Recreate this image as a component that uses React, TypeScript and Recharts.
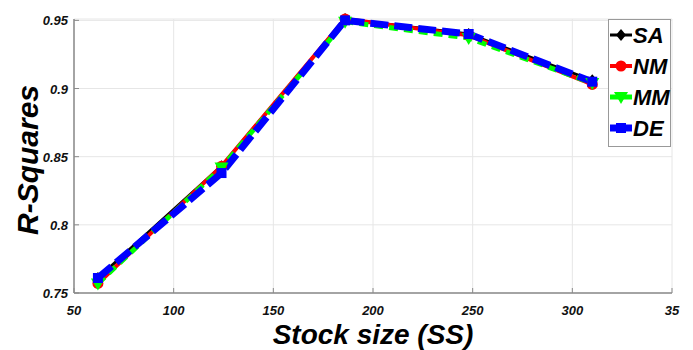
import { CartesianGrid, Label, Line, LineChart, XAxis, YAxis } from 'recharts';

const stockSizes = [62, 124, 186, 248, 310];
const saValues = [0.761, 0.843, 0.951, 0.94, 0.906];
const nmValues = [0.757, 0.843, 0.951, 0.939, 0.903];
const mmValues = [0.757, 0.842, 0.949, 0.937, 0.904];
const deValues = [0.761, 0.838, 0.95, 0.94, 0.905];

const xTicks = [50, 100, 150, 200, 250, 300, 350];
const xTickLabels = ['50', '100', '150', '200', '250', '300', '35'];
const yTicks = [0.75, 0.8, 0.85, 0.9, 0.95];
const yTickLabels = ['0.75', '0.8', '0.85', '0.9', '0.95'];

const font = '"Liberation Sans", Arial, sans-serif';
const axisGray = '#8a8a8a';

const chartData = stockSizes.map((ss, i) => ({
  ss,
  SA: saValues[i],
  NM: nmValues[i],
  MM: mmValues[i],
  DE: deValues[i],
}));

type Marker = 'diamond' | 'circle' | 'triangle' | 'square';

const series: { key: string; color: string; width: number; dash?: string; marker: Marker }[] = [
  { key: 'SA', color: '#000000', width: 3, marker: 'diamond' },
  { key: 'NM', color: '#ff0000', width: 4, marker: 'circle' },
  { key: 'MM', color: '#00ff00', width: 5, dash: '9 6', marker: 'triangle' },
  { key: 'DE', color: '#0000ff', width: 7, dash: '18 6', marker: 'square' },
];

function markerShape(kind: Marker, cx: number, cy: number, color: string) {
  if (kind === 'diamond') {
    return <polygon points={`${cx},${cy - 6} ${cx + 5},${cy} ${cx},${cy + 6} ${cx - 5},${cy}`} fill={color} />;
  }
  if (kind === 'circle') return <circle cx={cx} cy={cy} r={5.5} fill={color} />;
  if (kind === 'triangle') {
    return <polygon points={`${cx - 7},${cy - 5} ${cx + 7},${cy - 5} ${cx},${cy + 7}`} fill={color} />;
  }
  return <rect x={cx - 5} y={cy - 5} width={10} height={10} fill={color} />;
}

const tickText = { fontFamily: font, fontSize: 13, fontWeight: 700, fontStyle: 'italic', fill: '#111' } as const;

function BottomTick({ x, y, payload }: any) {
  const label = xTickLabels[xTicks.indexOf(payload.value)];
  return (
    <g>
      <line x1={x} x2={x} y1={y} y2={y - 5} stroke={axisGray} />
      <text x={x} y={y + 22} textAnchor="middle" style={tickText}>
        {label}
      </text>
    </g>
  );
}

function TopTick({ x, y }: any) {
  return <line x1={x} x2={x} y1={y} y2={y + 5} stroke={axisGray} />;
}

function LeftTick({ x, y, payload }: any) {
  const label = yTickLabels[yTicks.indexOf(payload.value)];
  return (
    <g>
      <line x1={x} x2={x + 5} y1={y} y2={y} stroke={axisGray} />
      <text x={x - 6} y={y + 5} textAnchor="end" style={tickText}>
        {label}
      </text>
    </g>
  );
}

function RightTick({ x, y }: any) {
  return <line x1={x} x2={x - 5} y1={y} y2={y} stroke={axisGray} />;
}

function LegendBox() {
  return (
    <svg width={63} height={128} style={{ display: 'block' }}>
      <rect x={0.5} y={0.5} width={62} height={127} fill="#fff" stroke="#999" />
      {series.map((s, i) => {
        const cy = 16 + i * 31;
        return (
          <g key={s.key}>
            <line x1={2} x2={24} y1={cy} y2={cy} stroke={s.color} strokeWidth={s.width} />
            {markerShape(s.marker, 13, cy, s.color)}
            <text
              x={25}
              y={cy + 8}
              style={{ fontFamily: font, fontSize: 22, fontWeight: 700, fontStyle: 'italic', fill: '#000' }}
            >
              {s.key}
            </text>
          </g>
        );
      })}
    </svg>
  );
}

export default function App() {
  return (
    <div style={{ position: 'absolute', left: 0, top: 0, width: 693, height: 350, background: '#fff' }}>
      <LineChart width={693} height={350} data={chartData} margin={{ top: 19, right: 21, bottom: 0, left: 0 }}>
        <CartesianGrid stroke="#e6e6e6" strokeWidth={1} />
        <XAxis
          dataKey="ss"
          type="number"
          domain={[50, 350]}
          ticks={xTicks}
          height={57}
          tickSize={0}
          tickMargin={0}
          tickLine={false}
          tick={<BottomTick />}
          axisLine={{ stroke: axisGray, strokeWidth: 1.5 }}
          interval={0}
        >
          <Label
            value="Stock size (SS)"
            position="insideBottom"
            offset={6}
            style={{ fontFamily: font, fontSize: 28, fontWeight: 700, fontStyle: 'italic', fill: '#000' }}
          />
        </XAxis>
        <XAxis
          xAxisId="top"
          orientation="top"
          type="number"
          domain={[50, 350]}
          ticks={xTicks}
          height={0}
          tickSize={0}
          tickMargin={0}
          tickLine={false}
          tick={<TopTick />}
          axisLine={{ stroke: axisGray, strokeWidth: 1.5 }}
          interval={0}
        />
        <YAxis
          type="number"
          domain={[0.75, 0.95]}
          ticks={yTicks}
          width={74}
          tickSize={0}
          tickMargin={0}
          tickLine={false}
          tick={<LeftTick />}
          axisLine={{ stroke: axisGray, strokeWidth: 1.5 }}
          interval={0}
        >
          <Label
            content={() => (
              <text
                x={27}
                y={160}
                transform="rotate(-90 27 160)"
                textAnchor="middle"
                dominantBaseline="central"
                style={{ fontFamily: font, fontSize: 30, fontWeight: 700, fontStyle: 'italic', fill: '#000' }}
              >
                R-Squares
              </text>
            )}
          />
        </YAxis>
        <YAxis
          yAxisId="right"
          orientation="right"
          type="number"
          domain={[0.75, 0.95]}
          ticks={yTicks}
          width={0}
          tickSize={0}
          tickMargin={0}
          tickLine={false}
          tick={<RightTick />}
          axisLine={{ stroke: axisGray, strokeWidth: 1.5 }}
          interval={0}
        />
        {series.map((s) => (
          <Line
            key={s.key}
            dataKey={s.key}
            stroke={s.color}
            strokeWidth={s.width}
            strokeDasharray={s.dash}
            isAnimationActive={false}
            dot={(p: any) => <g key={`${s.key}-${p.index}`}>{markerShape(s.marker, p.cx, p.cy, s.color)}</g>}
            activeDot={false}
          />
        ))}
      </LineChart>
      <div style={{ position: 'absolute', left: 608, top: 19 }}>
        <LegendBox />
      </div>
    </div>
  );
}
